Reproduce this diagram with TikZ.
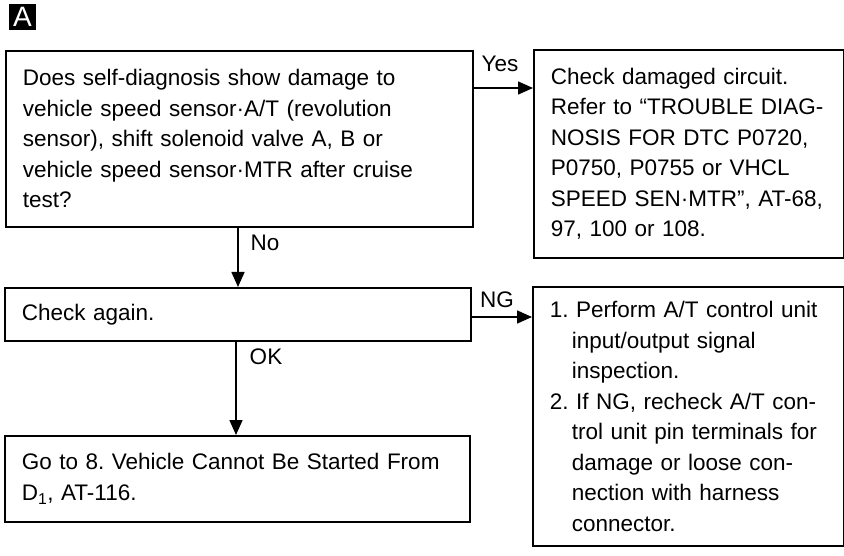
\documentclass[tikz,border=0pt]{standalone}
\usepackage{fontspec}
\setmainfont{Liberation Sans}
\usetikzlibrary{arrows.meta}
\tikzset{
  box/.style ={draw, line width=1.7pt, anchor=north west, align=left,
               inner xsep=17pt, inner ysep=2pt,
               font=\fontsize{22.5}{30.5}\selectfont},
  lbl/.style ={font=\fontsize{22.5}{27}\selectfont, inner sep=1pt},
  arr/.style ={-{Triangle[length=15pt,width=13pt]}, line width=1.6pt},
  tagbox/.style={fill=black, text=white, minimum width=27pt, minimum height=26pt,
               inner sep=0pt, font=\fontsize{28}{28}\selectfont},
}
\newcommand{\hang}{\hspace*{22pt}}
\frenchspacing

\begin{document}
\begin{tikzpicture}[x=1pt,y=-1pt]
  \useasboundingbox (0,0) rectangle (844,556);
  \node[tagbox] (tagA) at (22.5,17) {A};
  % left column
  \node[box, text width=433pt, minimum height=176pt] (q) at (5,50)
    {Does self-diagnosis show damage to\\
     vehicle speed sensor·A/T (revolution\\
     sensor), shift solenoid valve A, B or\\
     vehicle speed sensor·MTR after cruise\\
     test?};
  \node[box, text width=432pt, minimum height=53pt] (again) at (4,287) {Check again.};
  \node[box, text width=431pt, minimum height=86pt] (goto) at (4,435)
    {Go to 8. Vehicle Cannot Be Started From\\
     D\textsubscript{1}, AT-116.};
  % right column
  \node[box, text width=276pt, minimum height=208pt] (dmg) at (533,49)
    {Check damaged circuit.\\
     Refer to “TROUBLE DIAG-\\
     NOSIS FOR DTC P0720,\\
     P0750, P0755 or VHCL\\
     SPEED SEN·MTR”, AT-68,\\
     97, 100 or 108.};
  \node[box, text width=277pt, minimum height=259pt] (act) at (532,286)
    {1.\ Perform A/T control unit\\
     \hang input/output signal\\
     \hang inspection.\\
     2.\ If NG, recheck A/T con-\\
     \hang trol unit pin terminals for\\
     \hang damage or loose con-\\
     \hang nection with harness\\
     \hang connector.};
  % connectors
  \coordinate (yes) at (0,88);
  \coordinate (ng)  at (0,317);
  \coordinate (no)  at (238,0);
  \coordinate (ok)  at (236,0);
  \draw[arr] (q.east |- yes) -- (dmg.west |- yes);
  \draw[arr] (again.east |- ng) -- (act.west |- ng);
  \draw[arr] (q.south -| no) -- (again.north -| no);
  \draw[arr] (again.south -| ok) -- (goto.north -| ok);
  \node[lbl] (lyes) at (500,64)  {Yes};
  \node[lbl] (lng)  at (497,300) {NG};
  \node[lbl] (lno)  at (265,243) {No};
  \node[lbl] (lok)  at (266,357) {OK};
\end{tikzpicture}
\end{document}
